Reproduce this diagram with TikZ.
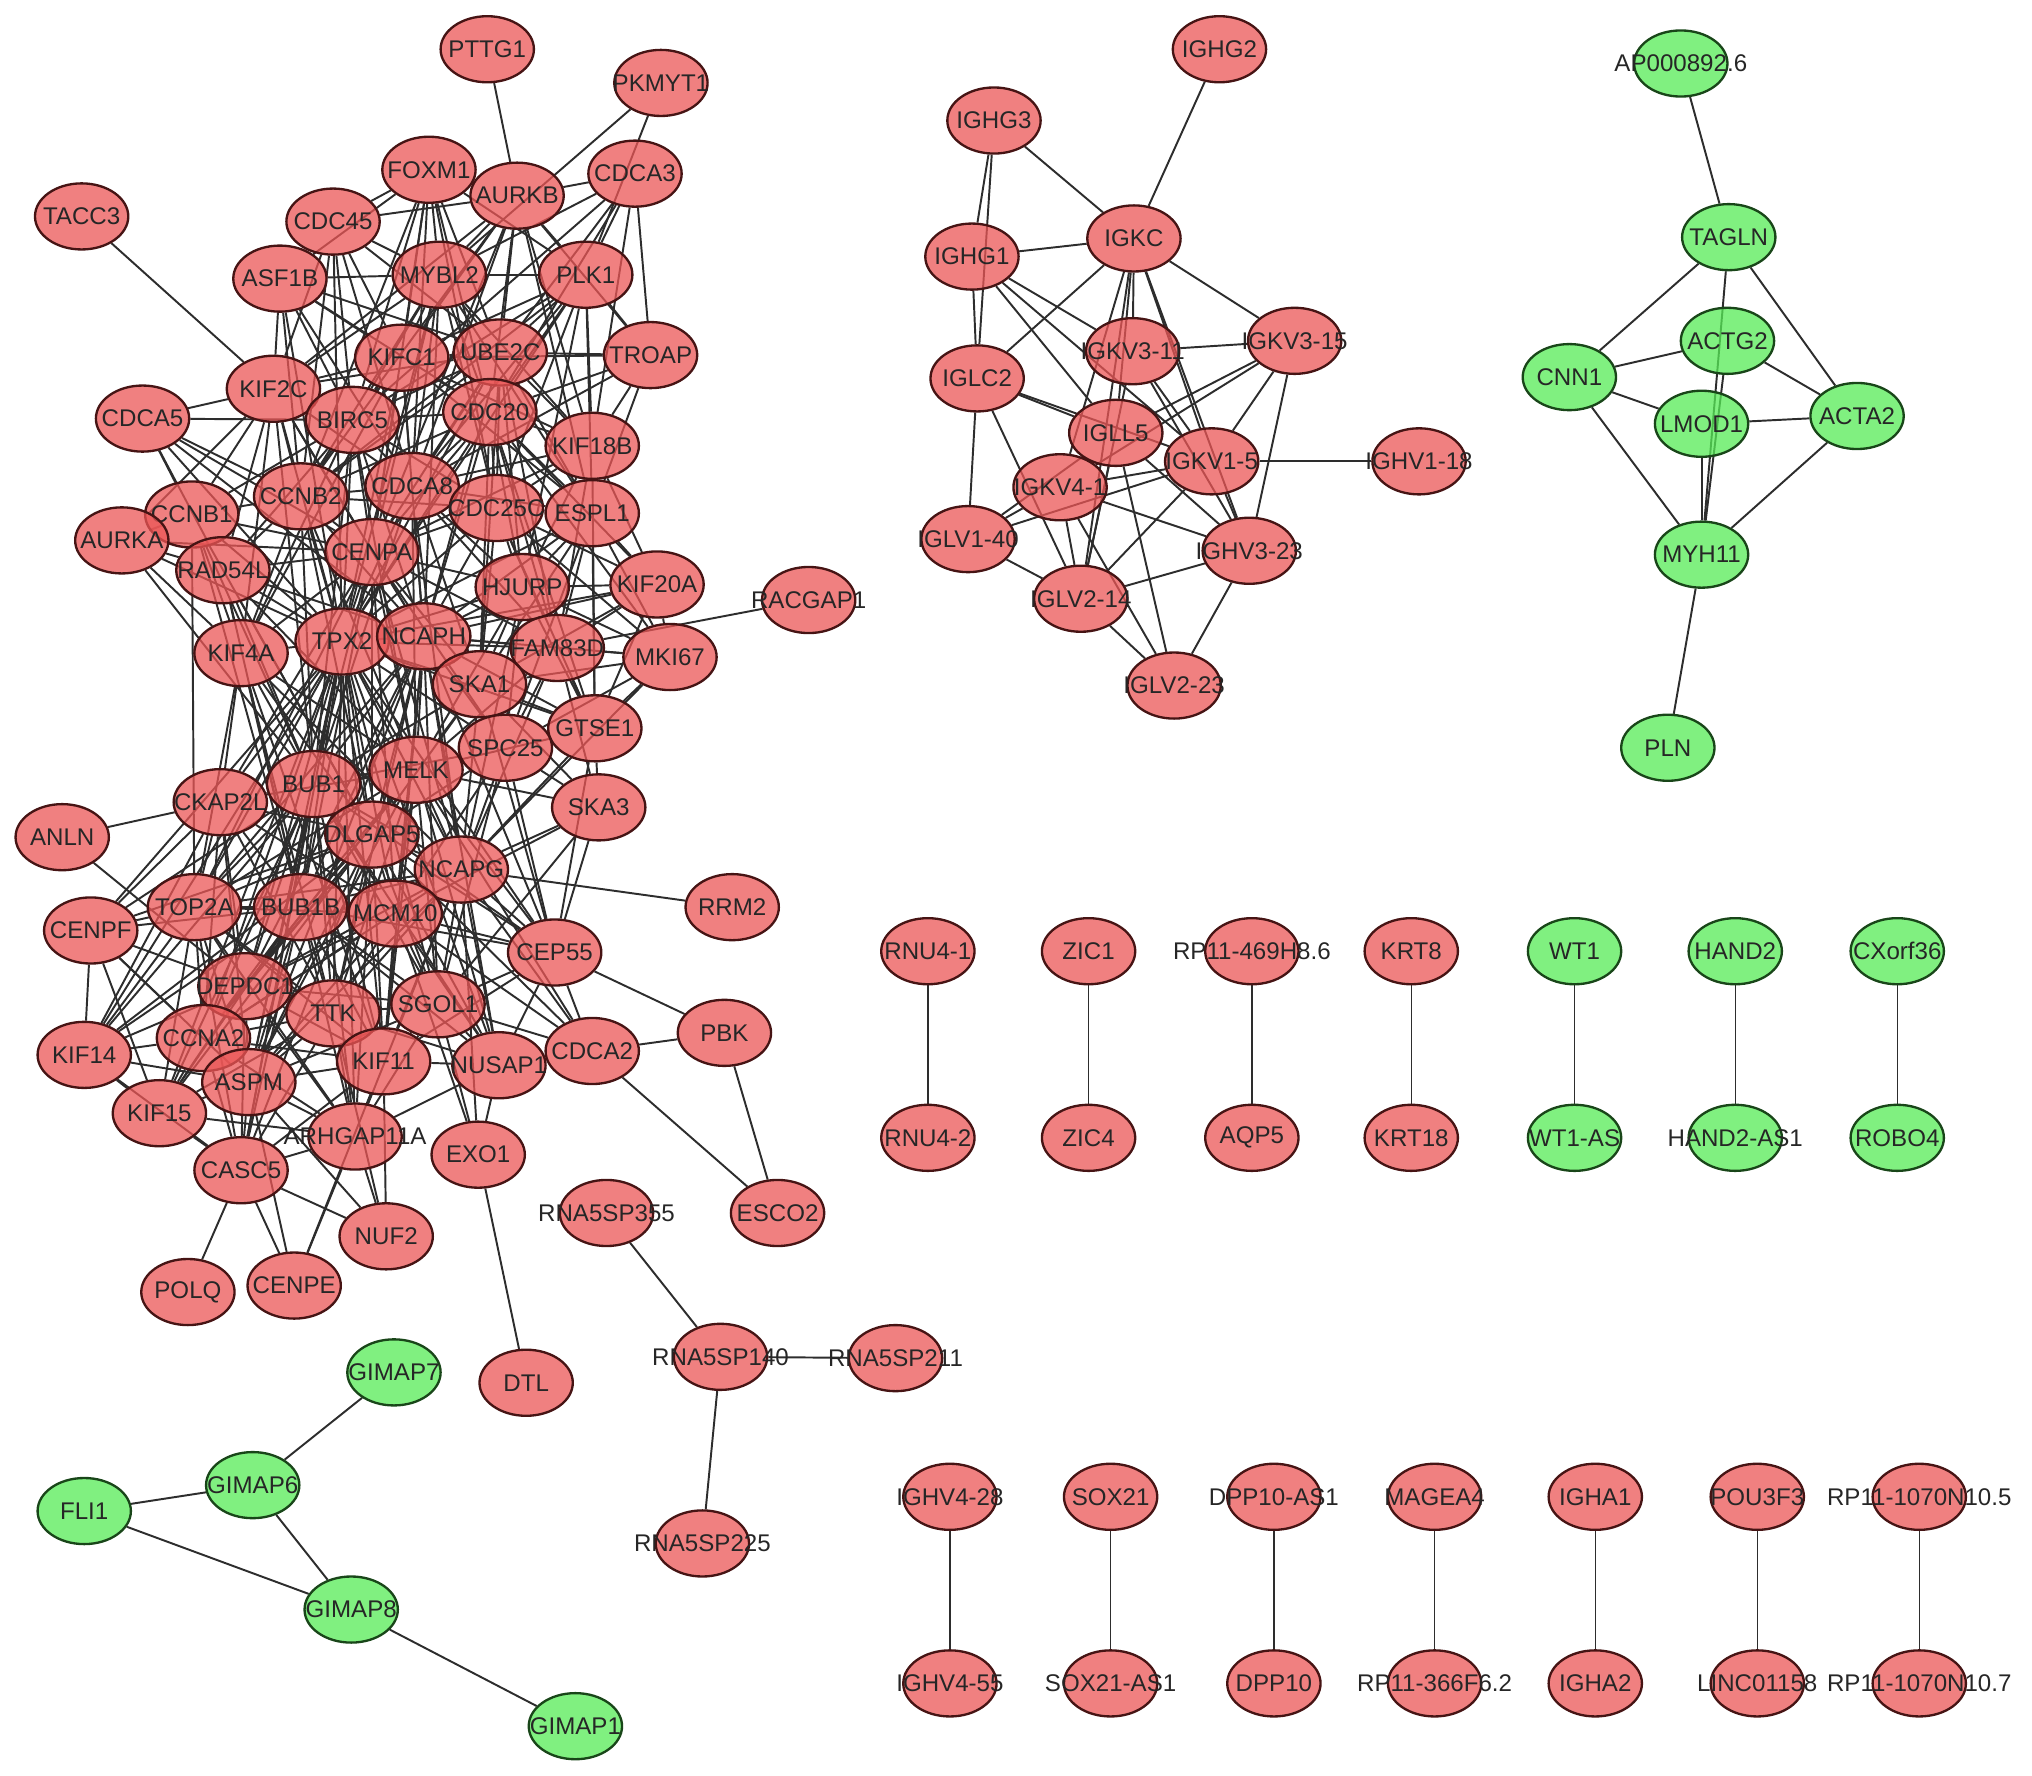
\documentclass[tikz,border=0pt]{standalone}
\usepackage{fontspec}
\setmainfont{Liberation Sans}
\usepackage{xcolor}
\usetikzlibrary{shapes.geometric,backgrounds}

\definecolor{upfill}{RGB}{235,86,86}
\definecolor{upline}{RGB}{70,20,20}
\definecolor{downfill}{RGB}{86,235,86}
\definecolor{downline}{RGB}{25,70,25}
\definecolor{linkcol}{RGB}{45,45,45}
\newcommand{\glab}[1]{\makebox[0pt]{#1}}

\begin{document}
\begin{tikzpicture}[x=0.5pt,y=-0.5pt,
  gene/.style={ellipse,line width=0.9pt,minimum width=36pt,minimum height=25.5pt,inner sep=0pt,
    fill opacity=0.75,text opacity=1,text=black!85,font=\fontsize{9.3}{10}\selectfont},
  upgene/.style={gene,fill=upfill,draw=upline},
  downgene/.style={gene,fill=downfill,draw=downline},
  link/.style={draw=linkcol,line width=0.75pt},
  pairlink/.style={draw=linkcol,line width=0.5pt}]
\useasboundingbox (0,0) rectangle (1568,1370);

%Main cluster
\foreach \n/\x/\y in {PTTG1/376/38, PKMYT1/510/64, FOXM1/331/131, AURKB/399/151, CDCA3/490/134,
  TACC3/63/167, CDC45/257/171, ASF1B/216/215, MYBL2/339/212, PLK1/452/212, KIF2C/211/300,
  KIFC1/310/276, UBE2C/386/272, TROAP/502/274, CDCA5/110/323, BIRC5/272/324, CDC20/378/318,
  KIF18B/457/344, CCNB1/148/397, CCNB2/232/383, CDCA8/318/375, CDC25C/383/392, ESPL1/457/396,
  AURKA/94/417, RAD54L/172/440, CENPA/287/426, HJURP/403/453, KIF20A/507/451, RACGAP1/624/463,
  KIF4A/186/504, TPX2/264/495, NCAPH/327/491, FAM83D/430/500, MKI67/517/507, SKA1/370/528,
  GTSE1/459/562, SPC25/390/577, CKAP2L/170/619, BUB1/242/605, MELK/321/594, SKA3/462/623,
  ANLN/48/646, DLGAP5/287/644, NCAPG/356/671, RRM2/565/700, CENPF/70/718, TOP2A/150/700,
  BUB1B/232/700, MCM10/305/705, DEPDC1/189/761, CEP55/428/735, SGOL1/338/775, TTK/257/782,
  KIF14/65/814, CCNA2/157/801, ASPM/192/835, KIF11/296/819, NUSAP1/385/822, CDCA2/457/811,
  PBK/559/797, KIF15/123/859, ARHGAP11A/274/877, CASC5/186/903, EXO1/369/891, ESCO2/600/936,
  NUF2/298/954, POLQ/145/997, CENPE/227/992, DTL/406/1067}
  \node[upgene] (\n) at (\x,\y) {\glab{\n}};

%Immunoglobulin cluster
\foreach \n/\x/\y in {IGHG2/941/38, IGHG3/767/93, IGHG1/750/198, IGKC/875/184, IGKV3-11/874/271,
  IGKV3-15/999/263, IGLC2/754/292, IGLL5/861/334, IGKV1-5/935/356, IGHV1-18/1095/356,
  IGKV4-1/818/376, IGLV1-40/747/416, IGHV3-23/964/425, IGLV2-14/834/462, IGLV2-23/906/529}
  \node[upgene] (\n) at (\x,\y) {\glab{\n}};

%Smooth muscle cluster
\node[downgene] (AP) at (1297,49) {\glab{AP000892.6}};
\foreach \n/\x/\y in {TAGLN/1334/183, ACTG2/1333/263, CNN1/1211/291, LMOD1/1313/327,
  ACTA2/1433/321, MYH11/1313/428, PLN/1287/577}
  \node[downgene] (\n) at (\x,\y) {\glab{\n}};

%RNA5SP and GIMAP
\foreach \n/\x/\y in {RNA5SP355/468/936, RNA5SP140/556/1047, RNA5SP211/691/1048, RNA5SP225/542/1191}
  \node[upgene] (\n) at (\x,\y) {\glab{\n}};
\foreach \n/\x/\y in {GIMAP7/304/1059, GIMAP6/195/1146, FLI1/65/1166, GIMAP8/271/1242, GIMAP1/444/1332}
  \node[downgene] (\n) at (\x,\y) {\glab{\n}};

%Pairs
\foreach \x/\t/\b/\st in {716/RNU4-1/RNU4-2/upgene, 840/ZIC1/ZIC4/upgene, 966/RP11-469H8.6/AQP5/upgene,
  1089/KRT8/KRT18/upgene, 1215/WT1/WT1-AS/downgene, 1339/HAND2/HAND2-AS1/downgene,
  1464/CXorf36/ROBO4/downgene}
{
  \node[\st] (t\x) at (\x,734) {\glab{\t}};
  \node[\st] (b\x) at (\x,878) {\glab{\b}};
}
\foreach \x/\t/\b in {733/IGHV4-28/IGHV4-55, 857/SOX21/SOX21-AS1, 983/DPP10-AS1/DPP10,
  1107/MAGEA4/RP11-366F6.2, 1231/IGHA1/IGHA2, 1356/POU3F3/LINC01158, 1481/RP11-1070N10.5/RP11-1070N10.7}
{
  \node[upgene] (u\x) at (\x,1155) {\glab{\t}};
  \node[upgene] (l\x) at (\x,1299) {\glab{\b}};
}

\begin{pgfonlayer}{background}
%Main cluster links
\foreach \s/\ts in {TACC3/{KIF2C}, PTTG1/{AURKB}, PKMYT1/{MYBL2,PLK1},
  CDCA3/{AURKB,TROAP,PLK1,MYBL2,KIF18B,UBE2C,BIRC5,CDC20},
  FOXM1/{CDC45,AURKB,MYBL2,PLK1,CDC20,UBE2C,KIFC1,BIRC5,CDCA8,CCNB2,CENPA,CDC25C,ASF1B},
  AURKB/{MYBL2,PLK1,KIF18B,CDC20,UBE2C,BIRC5,CDCA8,KIFC1,CENPA,TROAP,ESPL1,KIF2C,CDC45},
  CDC45/{MYBL2,KIFC1,BIRC5,UBE2C,CDCA8,CCNB2,TPX2,ASF1B,KIF2C},
  ASF1B/{MYBL2,KIFC1,UBE2C,BIRC5,CDC20,CCNB2,TPX2,CDCA8,KIF2C},
  MYBL2/{PLK1,KIFC1,UBE2C,BIRC5,CDC20,CDCA8,CCNB2,CENPA,TPX2,NCAPH,CDC25C,KIF18B,ESPL1,KIF2C},
  PLK1/{TROAP,UBE2C,KIFC1,CDC20,KIF18B,ESPL1,BIRC5,CDCA8,CDC25C,HJURP,CCNB2,TPX2},
  TROAP/{UBE2C,KIF18B,KIFC1,CDC20,ESPL1,CDCA8},
  KIF2C/{CDCA5,KIFC1,BIRC5,CCNB1,CCNB2,AURKA,RAD54L,CENPA,TPX2,KIF4A,BUB1,CDCA8,NCAPH,UBE2C},
  CDCA5/{CCNB1,BIRC5,CCNB2,TPX2,CENPA,NCAPH,RAD54L},
  KIFC1/{UBE2C,BIRC5,CDC20,CCNB2,CDCA8,CENPA,KIF18B,TPX2,NCAPH,ESPL1,KIF4A},
  UBE2C/{CDC20,BIRC5,CDCA8,KIF18B,ESPL1,CDC25C,CCNB2,CENPA,HJURP,TPX2,NCAPH,FAM83D,SKA1},
  BIRC5/{CDC20,CCNB1,CCNB2,CDCA8,CENPA,TPX2,KIF4A,RAD54L,NCAPH,CDC25C,BUB1,MELK},
  CDC20/{CDCA8,CDC25C,KIF18B,ESPL1,CENPA,HJURP,NCAPH,TPX2,CCNB2,FAM83D,SKA1,KIF20A,MKI67,GTSE1},
  KIF18B/{ESPL1,CDC25C,KIF20A,HJURP,FAM83D,CDCA8,GTSE1,CENPA},
  CCNB1/{AURKA,RAD54L,CCNB2,TPX2,CENPA,KIF4A,BUB1,BUB1B,TOP2A,DLGAP5},
  CCNB2/{CDCA8,CENPA,TPX2,RAD54L,KIF4A,NCAPH,BUB1,MELK,DLGAP5,CDC25C},
  CDCA8/{CDC25C,CENPA,TPX2,NCAPH,HJURP,ESPL1,SKA1,MELK,BUB1,FAM83D,NCAPG},
  CDC25C/{ESPL1,HJURP,NCAPH,FAM83D,KIF20A,SKA1,CENPA,TPX2,MKI67,GTSE1},
  ESPL1/{KIF20A,HJURP,FAM83D,MKI67,GTSE1,SKA1,NCAPH,TPX2,SPC25},
  AURKA/{RAD54L,TPX2,CENPA,KIF4A,BUB1},
  RAD54L/{CENPA,TPX2,KIF4A,NCAPH,BUB1,MELK,DLGAP5,BUB1B},
  CENPA/{TPX2,NCAPH,HJURP,KIF4A,BUB1,MELK,DLGAP5,SKA1,FAM83D,NCAPG,BUB1B,MCM10,SPC25,TOP2A,CKAP2L},
  HJURP/{KIF20A,FAM83D,NCAPH,TPX2,SKA1,MKI67,GTSE1,SPC25,MELK,NCAPG},
  KIF20A/{FAM83D,MKI67,GTSE1,NCAPH,TPX2,SKA1},
  RACGAP1/{FAM83D},
  KIF4A/{TPX2,BUB1,CKAP2L,MELK,DLGAP5,TOP2A,NCAPG,BUB1B,KIF11,TTK},
  TPX2/{NCAPH,FAM83D,SKA1,BUB1,MELK,DLGAP5,NCAPG,CKAP2L,TOP2A,BUB1B,MCM10,DEPDC1,TTK,CCNA2,ASPM,KIF11,SGOL1,SPC25,GTSE1,CEP55,NUSAP1,KIF14,KIF15,CENPF,ARHGAP11A,CASC5},
  NCAPH/{FAM83D,SKA1,MELK,BUB1,DLGAP5,NCAPG,SPC25,GTSE1,MKI67,BUB1B,MCM10,TTK,SGOL1,KIF11,NUSAP1,CEP55,TOP2A,DEPDC1,ASPM},
  FAM83D/{MKI67,SKA1,GTSE1,SPC25,MELK,NCAPG,SKA3},
  MKI67/{GTSE1,SKA1,SPC25,NCAPG},
  SKA1/{SPC25,GTSE1,MELK,NCAPG,DLGAP5,BUB1,SKA3,CEP55},
  GTSE1/{SPC25,SKA3,NCAPG,MELK,CEP55},
  SPC25/{MELK,NCAPG,SKA3,DLGAP5,BUB1,CEP55,MCM10,SGOL1},
  ANLN/{CKAP2L,DEPDC1},
  CKAP2L/{BUB1,TOP2A,BUB1B,DLGAP5,DEPDC1,CENPF,CCNA2,MELK,KIF14,ASPM,MCM10,TTK},
  BUB1/{MELK,DLGAP5,NCAPG,TOP2A,BUB1B,MCM10,DEPDC1,TTK,CCNA2,ASPM,KIF11,SGOL1,CENPF,KIF14,KIF15,CASC5,ARHGAP11A,NUSAP1,CEP55},
  MELK/{DLGAP5,NCAPG,BUB1B,MCM10,TTK,SGOL1,KIF11,NUSAP1,CEP55,TOP2A,DEPDC1,CCNA2,ASPM,SKA3,CDCA2},
  SKA3/{NCAPG,CEP55,MCM10,SGOL1},
  DLGAP5/{NCAPG,BUB1B,MCM10,TOP2A,DEPDC1,TTK,CCNA2,ASPM,KIF11,SGOL1,NUSAP1,CEP55,CENPF,KIF14,KIF15,ARHGAP11A,CASC5,CDCA2},
  NCAPG/{MCM10,BUB1B,SGOL1,CEP55,NUSAP1,CDCA2,KIF11,TTK,EXO1,RRM2,TOP2A,DEPDC1,ASPM,CCNA2,ARHGAP11A},
  TOP2A/{BUB1B,CENPF,DEPDC1,CCNA2,ASPM,KIF14,KIF15,TTK,MCM10,KIF11,CASC5,ARHGAP11A},
  BUB1B/{MCM10,DEPDC1,TTK,CCNA2,ASPM,KIF11,SGOL1,CENPF,KIF14,KIF15,CASC5,ARHGAP11A,NUSAP1,CEP55},
  MCM10/{SGOL1,TTK,KIF11,NUSAP1,CEP55,DEPDC1,CCNA2,ASPM,EXO1,CDCA2},
  DEPDC1/{CCNA2,ASPM,TTK,KIF11,CENPF,KIF14,KIF15,CASC5,ARHGAP11A,SGOL1},
  CEP55/{SGOL1,NUSAP1,CDCA2,PBK,KIF11},
  SGOL1/{TTK,KIF11,NUSAP1,CDCA2,ASPM,ARHGAP11A,EXO1},
  TTK/{KIF11,ASPM,CCNA2,ARHGAP11A,NUSAP1,CASC5,KIF15,NUF2},
  CCNA2/{ASPM,KIF14,KIF15,CASC5,CENPF,ARHGAP11A,KIF11},
  ASPM/{KIF14,KIF15,CASC5,KIF11,ARHGAP11A,NUF2,CENPE,CENPF},
  KIF11/{NUSAP1,ARHGAP11A,NUF2,CASC5,CENPE},
  NUSAP1/{CDCA2,ARHGAP11A,EXO1}, CDCA2/{PBK,ESCO2}, PBK/{ESCO2},
  KIF14/{CENPF,KIF15,CASC5}, KIF15/{CENPF,CASC5,ARHGAP11A},
  ARHGAP11A/{CASC5,NUF2,CENPE}, CASC5/{POLQ,CENPE,NUF2}, EXO1/{DTL}}
  \foreach \t in \ts
    \draw[link] (\s) -- (\t);

%Immunoglobulin links
\foreach \s/\ts in {IGHG2/{IGKC}, IGHG3/{IGKC,IGHG1,IGLC2},
  IGHG1/{IGLC2,IGKC,IGKV3-11,IGLL5,IGKV1-5},
  IGKC/{IGLC2,IGKV3-15,IGKV3-11,IGLL5,IGKV4-1,IGKV1-5,IGHV3-23,IGLV2-14},
  IGKV3-11/{IGKV3-15,IGHV3-23,IGLV2-14,IGKV1-5},
  IGKV3-15/{IGLL5,IGKV1-5,IGHV3-23,IGKV4-1},
  IGLC2/{IGLL5,IGLV1-40,IGLV2-14,IGKV1-5},
  IGLL5/{IGKV4-1,IGHV3-23,IGLV2-23,IGLV2-14,IGLV1-40},
  IGKV1-5/{IGHV1-18,IGKV4-1,IGLV1-40,IGLV2-14,IGHV3-23},
  IGKV4-1/{IGHV3-23,IGLV2-23,IGLV2-14,IGLV1-40},
  IGLV1-40/{IGLV2-14}, IGLV2-14/{IGHV3-23,IGLV2-23}, IGHV3-23/{IGLV2-23}}
  \foreach \t in \ts
    \draw[link] (\s) -- (\t);

%Smooth muscle links
\foreach \s/\ts in {AP/{TAGLN}, TAGLN/{CNN1,ACTA2,MYH11}, CNN1/{ACTG2,LMOD1,MYH11},
  ACTG2/{ACTA2,MYH11}, LMOD1/{ACTA2,MYH11}, ACTA2/{MYH11}, MYH11/{PLN}}
  \foreach \t in \ts
    \draw[link] (\s) -- (\t);

%Small groups
\foreach \a/\b in {RNA5SP355/RNA5SP140, RNA5SP140/RNA5SP211, RNA5SP140/RNA5SP225,
  GIMAP7/GIMAP6, GIMAP6/FLI1, GIMAP6/GIMAP8, FLI1/GIMAP8, GIMAP8/GIMAP1}
  \draw[link] (\a) -- (\b);
\foreach \x in {716,840,966,1089,1215,1339,1464}
  \draw[pairlink] (t\x) -- (b\x);
\foreach \x in {733,857,983,1107,1231,1356,1481}
  \draw[pairlink] (u\x) -- (l\x);
\end{pgfonlayer}
\end{tikzpicture}
\end{document}
